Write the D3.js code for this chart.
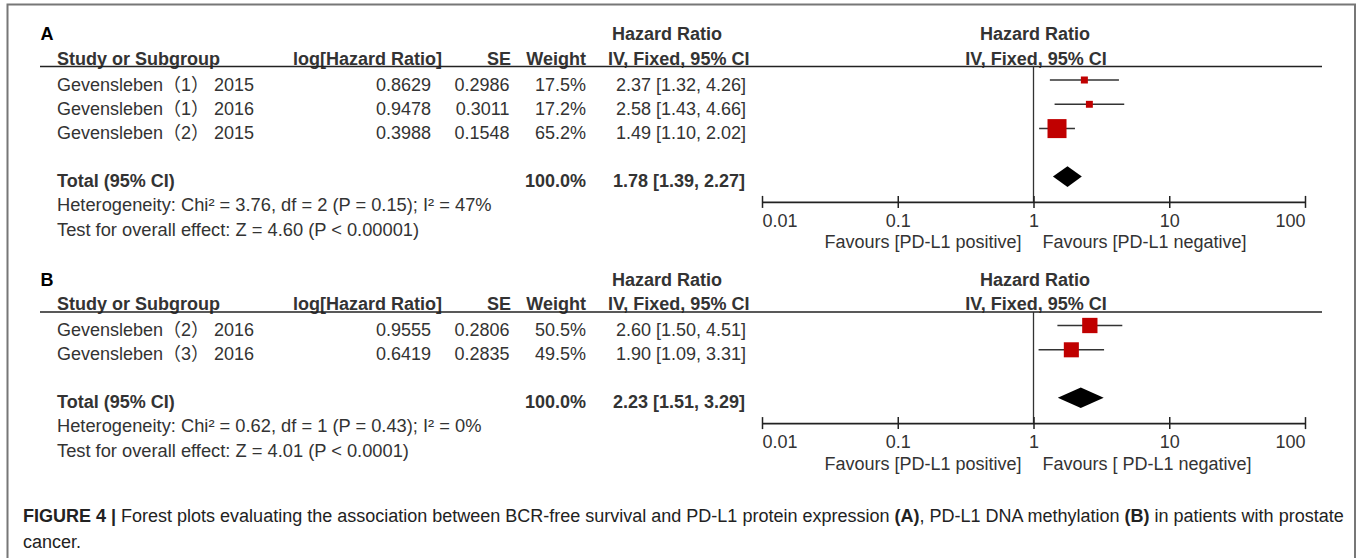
<!DOCTYPE html>
<html>
<head>
<meta charset="utf-8">
<script src="https://cdn.jsdelivr.net/npm/d3@7"></script>
<style>
  body { margin: 0; background: #fff; }
  svg { display: block; font-family: "Liberation Sans", Arial, "Noto Sans CJK SC", sans-serif; }
</style>
</head>
<body>
<svg id="chart" width="1357" height="558"></svg>
<script>
// panel A - PD-L1 protein expression
const studiesA = ['Gevensleben（1） 2015', 'Gevensleben（1） 2016', 'Gevensleben（2） 2015'];
const logHrA = ['0.8629', '0.9478', '0.3988'];
const seA = ['0.2986', '0.3011', '0.1548'];
const weightA = [17.5, 17.2, 65.2];
const hrA = [2.37, 2.58, 1.49];
const lowA = [1.32, 1.43, 1.10];
const highA = [4.26, 4.66, 2.02];
const totalA = [1.78, 1.39, 2.27];
const hetA = 'Heterogeneity: Chi² = 3.76, df = 2 (P = 0.15); I² = 47%';
const testA = 'Test for overall effect: Z = 4.60 (P < 0.00001)';
const favoursA = ['Favours [PD-L1 positive]', 'Favours [PD-L1 negative]'];

// panel B - PD-L1 DNA methylation
const studiesB = ['Gevensleben（2） 2016', 'Gevensleben（3） 2016'];
const logHrB = ['0.9555', '0.6419'];
const seB = ['0.2806', '0.2835'];
const weightB = [50.5, 49.5];
const hrB = [2.60, 1.90];
const lowB = [1.50, 1.09];
const highB = [4.51, 3.31];
const totalB = [2.23, 1.51, 3.29];
const hetB = 'Heterogeneity: Chi² = 0.62, df = 1 (P = 0.43); I² = 0%';
const testB = 'Test for overall effect: Z = 4.01 (P < 0.0001)';
const favoursB = ['Favours [PD-L1 positive]', 'Favours [ PD-L1 negative]'];

const axisTicks = [0.01, 0.1, 1, 10, 100];

const svg = d3.select('#chart');
const textCol = '#333';
const f2 = d3.format('.2f');
const f1 = d3.format('.1f');

const x = d3.scaleLog().domain([0.01, 100]).range([762, 1305]);
// box side grows with study weight
const boxSize = d3.scaleLinear().domain([17.5, 65.2]).range([7, 19]);

svg.append('rect')
  .attr('x', 7.5).attr('y', 4.5)
  .attr('width', 1347.5).attr('height', 620)
  .attr('fill', 'none')
  .attr('stroke', '#777')
  .attr('stroke-width', 2);

function txt(g, s, xx, yy, anchor, bold) {
  return g.append('text')
    .attr('x', xx).attr('y', yy)
    .attr('text-anchor', anchor || 'start')
    .attr('font-size', 18)
    .attr('font-weight', bold ? 'bold' : 'normal')
    .attr('fill', textCol)
    .text(s);
}

function drawPanel(y0, label, studies, logHr, se, weight, hr, low, high, total, het, test, favours) {
  let g = svg.append('g').attr('transform', 'translate(0,' + y0 + ')');
  const lineY = 66.5;
  const rowY = i => lineY + 13.5 + i * 24.3;
  const totalY = rowY(studies.length - 1) + 48;
  const axisY = totalY + 25.3;

  txt(g, label, 40.5, 40, 'start', true).attr('fill', '#000');

  // column headers
  txt(g, 'Hazard Ratio', 612, 40, 'start', true);
  txt(g, 'Hazard Ratio', 1035, 40, 'middle', true);
  txt(g, 'Study or Subgroup', 57, 64.5, 'start', true);
  txt(g, 'log[Hazard Ratio]', 442, 64.5, 'end', true);
  txt(g, 'SE', 511, 64.5, 'end', true);
  txt(g, 'Weight', 586, 64.5, 'end', true);
  txt(g, 'IV, Fixed, 95% CI', 608, 64.5, 'start', true);
  txt(g, 'IV, Fixed, 95% CI', 1036, 64.5, 'middle', true);

  g.append('line')
    .attr('x1', 40).attr('x2', 1322)
    .attr('y1', lineY).attr('y2', lineY)
    .attr('stroke', '#222').attr('stroke-width', 1.6);

  // study rows
  studies.forEach((s, i) => {
    let yb = rowY(i) + 10.5;
    txt(g, s, 57, yb);
    txt(g, logHr[i], 431, yb, 'end');
    txt(g, se[i], 509.5, yb, 'end');
    txt(g, f1(weight[i]) + '%', 586, yb, 'end');
    txt(g, f2(hr[i]) + ' [' + f2(low[i]) + ', ' + f2(high[i]) + ']', 746, yb, 'end');
  });

  let yt = totalY + 10.5;
  txt(g, 'Total (95% CI)', 57, yt, 'start', true);
  txt(g, '100.0%', 586, yt, 'end', true);
  txt(g, f2(total[0]) + ' [' + f2(total[1]) + ', ' + f2(total[2]) + ']', 745, yt, 'end', true);
  txt(g, het, 57, axisY + 9).attr('font-size', 18.3);
  txt(g, test, 57, axisY + 34).attr('font-size', 18.3);

  // line of no effect
  g.append('line')
    .attr('x1', x(1)).attr('x2', x(1))
    .attr('y1', lineY).attr('y2', axisY)
    .attr('stroke', '#333').attr('stroke-width', 1.3);

  g.selectAll('.ci')
    .data(studies)
    .join('line')
    .attr('class', 'ci')
    .attr('x1', (d, i) => x(low[i]))
    .attr('x2', (d, i) => x(high[i]))
    .attr('y1', (d, i) => rowY(i))
    .attr('y2', (d, i) => rowY(i))
    .attr('stroke', '#333')
    .attr('stroke-width', 1.5);

  g.selectAll('.box')
    .data(studies)
    .join('rect')
    .attr('class', 'box')
    .attr('x', (d, i) => x(hr[i]) - boxSize(weight[i]) / 2)
    .attr('y', (d, i) => rowY(i) - boxSize(weight[i]) / 2)
    .attr('width', (d, i) => boxSize(weight[i]))
    .attr('height', (d, i) => boxSize(weight[i]))
    .attr('fill', '#c00000');

  g.append('path')
    .attr('d', 'M' + x(total[1]) + ',' + totalY +
               'L' + x(total[0]) + ',' + (totalY - 10.3) +
               'L' + x(total[2]) + ',' + totalY +
               'L' + x(total[0]) + ',' + (totalY + 10.3) + 'Z')
    .attr('fill', '#000');

  // log axis
  let ax = g.append('g')
    .attr('transform', 'translate(0,' + axisY + ')')
    .call(d3.axisBottom(x).tickValues(axisTicks).tickFormat(d => d).tickSizeOuter(0));
  ax.select('.domain').attr('stroke', '#222').attr('stroke-width', 1.6);
  ax.selectAll('.tick line')
    .attr('y1', -6).attr('y2', 6)
    .attr('stroke', '#222').attr('stroke-width', 1.5);
  ax.selectAll('.tick text')
    .attr('y', 24.7).attr('dy', null)
    .attr('font-size', 18)
    .attr('font-family', '"Liberation Sans", Arial, sans-serif')
    .attr('fill', textCol)
    .attr('text-anchor', (d, i) => i == 0 ? 'start' : (i == axisTicks.length - 1 ? 'end' : 'middle'));

  txt(g, favours[0], x(1) - 12, axisY + 46.5, 'end');
  txt(g, favours[1], x(1) + 9, axisY + 46.5, 'start');
}

drawPanel(0, 'A', studiesA, logHrA, seA, weightA, hrA, lowA, highA, totalA, hetA, testA, favoursA);
drawPanel(245.5, 'B', studiesB, logHrB, seB, weightB, hrB, lowB, highB, totalB, hetB, testB, favoursB);

// caption
let cap = svg.append('text')
  .attr('x', 23).attr('y', 521.5)
  .attr('font-size', 18)
  .attr('fill', '#222');
cap.append('tspan').attr('font-weight', 'bold').text('FIGURE 4 | ');
cap.append('tspan').text('Forest plots evaluating the association between BCR-free survival and PD-L1 protein expression ');
cap.append('tspan').attr('font-weight', 'bold').text('(A)');
cap.append('tspan').text(', PD-L1 DNA methylation ');
cap.append('tspan').attr('font-weight', 'bold').text('(B)');
cap.append('tspan').text(' in patients with prostate');
svg.append('text')
  .attr('x', 23).attr('y', 548)
  .attr('font-size', 18)
  .attr('fill', '#222')
  .text('cancer.');
</script>
</body>
</html>
